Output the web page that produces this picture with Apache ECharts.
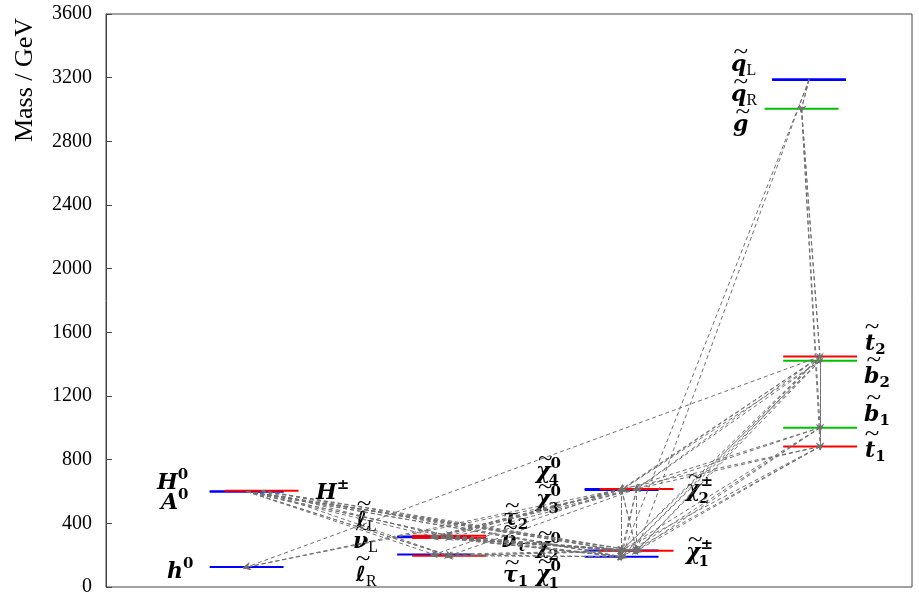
<!DOCTYPE html>
<html><head><meta charset="utf-8">
<script src="https://cdn.jsdelivr.net/npm/echarts@6/dist/echarts.min.js"></script>
<style>html,body{margin:0;padding:0;background:#fff}#c{width:919px;height:597px}</style>
</head><body><div id="c"></div>
<script>
// ---------------- DATA ----------------
const particles = ['h0','H0','A0','Hpm','eL','nuL','eR','tau2','nutau','tau1','N1','N2','N3','N4','C1','C2','qL','qR','gl','t2','b2','b1','t1'];
const masses    = [125, 600, 600, 605, 318, 312, 204, 322, 308, 196, 190, 229, 610, 616, 227, 616, 3190, 3185, 3005, 1448, 1421, 1001, 883];
const columns   = [1,1,1,1, 2,2,2,2,2,2, 3,3,3,3,3,3, 4,4,4,4,4,4,4];
const kinds     = ['blue','blue','blue','red','blue','blue','blue','red','red','red','blue','blue','blue','blue','red','red','blue','blue','glu','red3','green','green','red3'];
const decays = [
 ['H0','N1'],['H0','N2'],['H0','C1'],['A0','N1'],['A0','N2'],['A0','C1'],
 ['Hpm','N1'],['Hpm','N2'],['Hpm','C1'],
 ['H0','tau1'],['H0','tau2'],['A0','tau1'],['A0','tau2'],['Hpm','nutau'],['Hpm','tau1'],['H0','eL'],['H0','eR'],
 ['eL','N1'],['nuL','N1'],['eR','N1'],['tau2','N1'],['nutau','N1'],['tau1','N1'],
 ['eL','N2'],['eL','C1'],['nuL','N2'],['nuL','C1'],['tau2','N2'],['tau2','C1'],['nutau','N2'],['nutau','C1'],
 ['N2','eR'],['N2','tau1'],['C1','tau1'],
 ['N3','N1'],['N3','N2'],['N3','C1'],['N4','N1'],['N4','N2'],['N4','C1'],['C2','N1'],['C2','N2'],['C2','C1'],
 ['N4','h0'],['C2','h0'],
 ['N3','eL'],['N3','nuL'],['N4','eL'],['N4','tau2'],['C2','nuL'],['C2','nutau'],['N4','eR'],['C2','tau1'],
 ['qL','gl'],['qR','gl'],['qL','C1'],['qR','N1'],
 ['gl','t1'],['gl','t2'],['gl','b1'],['gl','b2'],
 ['t2','t1'],['t2','b1'],['t2','h0'],
 ['t2','N1'],['t2','N2'],['t2','C1'],['t2','N3'],['t2','N4'],['t2','C2'],
 ['b2','N1'],['b2','N2'],['b2','C1'],['b2','N3'],['b2','C2'],['b2','t1'],
 ['b1','N1'],['b1','N2'],['b1','C1'],['b1','N3'],['b1','C2'],
 ['t1','N1'],['t1','N2'],['t1','C1'],['t1','N4'],['t1','C2']
];
const yTicks = [0,400,800,1200,1600,2000,2400,2800,3200,3600];
const yTitle = 'Mass / GeV';
// label texts: base glyph, superscript, subscript, tilde
const labelText = {
 h0:{b:'h',sup:'0'}, H0:{b:'H',sup:'0'}, A0:{b:'A',sup:'0'}, Hpm:{b:'H',sup:'±'},
 eL:{b:'ℓ',sub:'L',t:1,rm:1}, nuL:{b:'ν',sub:'L',t:1,rm:1}, eR:{b:'ℓ',sub:'R',t:1,rm:1},
 tau2:{b:'τ',sub:'2',t:1}, nutau:{b:'ν',sub:'τ',t:1}, tau1:{b:'τ',sub:'1',t:1},
 N4:{b:'χ',sup:'0',sub:'4',t:1}, N3:{b:'χ',sup:'0',sub:'3',t:1}, N2:{b:'χ',sup:'0',sub:'2',t:1}, N1:{b:'χ',sup:'0',sub:'1',t:1},
 C2:{b:'χ',sup:'±',sub:'2',t:1}, C1:{b:'χ',sup:'±',sub:'1',t:1},
 qL:{b:'q',sub:'L',t:1,rm:1}, qR:{b:'q',sub:'R',t:1,rm:1}, gl:{b:'g',t:1},
 t2:{b:'t',sub:'2',t:1}, b2:{b:'b',sub:'2',t:1}, b1:{b:'b',sub:'1',t:1}, t1:{b:'t',sub:'1',t:1}
};

// ---------------- LAYOUT / STYLE ----------------
const kindStyle = {
 blue:{color:'#0000ff', dx:0}, red:{color:'#ff0000', dx:0.08}, red3:{color:'#ff0000', dx:0.059},
 glu:{color:'#00c000', dx:-0.04}, green:{color:'#00c000', dx:0.059}
};
const HALF = 0.197;
// label anchor: [left x of base glyph, vertical middle of base glyph] in px
const labelPos = {
 H0:[157,483], A0:[161,503], h0:[167,572], Hpm:[316,493],
 eL:[357,521], nuL:[353,542], eR:[356,576],
 tau2:[503,519], nutau:[501,541], tau1:[503,576],
 N4:[536,472], N3:[536,500], N2:[536,547], N1:[536,575],
 C2:[686,490], C1:[686,553],
 qL:[731,65], qR:[731,95], gl:[733,125],
 t2:[865,344], b2:[864,377], b1:[864,415], t1:[865,451]
};
const TALL = {'ℓ':1,'t':1,'b':1,'h':1};
const SERIF = '"Liberation Serif", "DejaVu Serif", serif';
const MATH = '"DejaVu Serif", serif';
const fontFor = b => b==='ℓ' ? 'italic bold 21px "DejaVu Sans", sans-serif' : 'italic bold 22px ' + MATH;

const idx = {}; particles.forEach((p,i)=>idx[p]=i);
const xOf = i => columns[i] + kindStyle[kinds[i]].dx;
const pos = p => [xOf(idx[p]), masses[idx[p]]];

const levelData = particles.map((p,i)=>({value:[xOf(i), masses[i]], kind:kinds[i]}));
levelData.sort((a,b)=> (a.kind==='blue'?0:1) - (b.kind==='blue'?0:1));

const cvs = document.createElement('canvas').getContext('2d');
function measure(t, f){ cvs.font = f; return cvs.measureText(t).width; }

function labelEls(){
  const els = [];
  Object.keys(labelText).forEach(k=>{
    const s = labelText[k], p = labelPos[k];
    const bf = fontFor(s.b);
    const bw = measure(s.b, bf);
    els.push({type:'text', x:p[0], y:p[1], silent:true, style:{text:s.b, font:bf, fill:'#000', align:'left', verticalAlign:'middle'}});
    if (s.t) els.push({type:'text', x:p[0]+bw/2+2, y:p[1]-(TALL[s.b]?16:12), scaleX:1.35, silent:true,
        style:{text:'~', font:'20px '+SERIF, fill:'#000', align:'center', verticalAlign:'middle'}});
    if (s.sup) els.push({type:'text', x:p[0]+bw, y:p[1]-8, silent:true, style:{text:s.sup, font:'bold 15px '+MATH, fill:'#000', align:'left', verticalAlign:'middle'}});
    if (s.sub) {
      const f = s.rm ? '16px '+SERIF : (s.sub==='τ' ? 'italic bold 15px '+MATH : 'bold 15px '+MATH);
      els.push({type:'text', x:p[0]+bw - (s.b==='χ'?2:0), y:p[1]+(s.sup?9:6), silent:true, style:{text:s.sub, font:f, fill:'#000', align:'left', verticalAlign:'middle'}});
    }
  });
  els.push({type:'text', x:25, y:80, rotation:Math.PI/2, silent:true, style:{text:yTitle, font:'26px '+SERIF, fill:'#000', align:'center', verticalAlign:'middle'}});
  return els;
}

const chart = echarts.init(document.getElementById('c'), null, {renderer:'canvas'});
chart.setOption({
  animation:false,
  grid:{left:106, right:7, top:14, bottom:9, show:true, borderColor:'#444', borderWidth:1},
  xAxis:{type:'value', min:0.25, max:4.549, show:false},
  yAxis:{type:'value', min:yTicks[0], max:yTicks[yTicks.length-1], interval:400,
    axisLine:{show:true, lineStyle:{color:'#444', width:1}},
    axisTick:{show:true, inside:true, length:6, lineStyle:{color:'#444'}},
    axisLabel:{fontFamily:SERIF, fontSize:20, color:'#000', margin:14, formatter:v=>String(v)},
    splitLine:{show:false}},
  series:[
    {type:'custom', coordinateSystem:'cartesian2d', clip:false, z:2,
     data: levelData,
     renderItem:(params, api)=>{
       const d = levelData[params.dataIndex];
       const x = api.value(0), m = api.value(1);
       const a = api.coord([x-HALF, m]), b = api.coord([x+HALF, m]);
       return {type:'line', shape:{x1:a[0], y1:a[1], x2:b[0], y2:b[1]}, style:{stroke:kindStyle[d.kind].color, lineWidth:2}};
     }},
    {type:'lines', coordinateSystem:'cartesian2d', z:5, silent:true,
     symbol:['none','path://M5,0L10,10L5,6L0,10Z'], symbolSize:[6,8],
     lineStyle:{color:'#707070', width:1, type:[4,3], opacity:1},
     data: decays.map(([a,b])=>({coords:[pos(a), pos(b)]}))}
  ],
  graphic: labelEls()
});
</script></body></html>
